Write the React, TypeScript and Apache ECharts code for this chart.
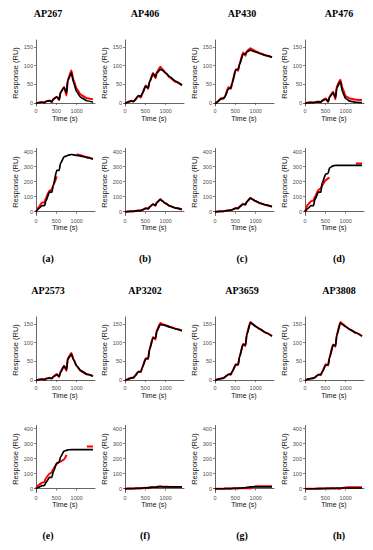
import React, { useEffect, useRef } from "react";
import * as echarts from "echarts";

// time points (s)
const TIME = [0, 30, 60, 150, 210, 240, 330, 390, 420, 510, 570, 600, 690, 750, 780, 870, 920, 1000, 1100, 1250, 1400];
const X_TICKS = [0, 500, 1000];
const TOP_TICKS = [0, 50, 100, 150];
const BOTTOM_TICKS = [0, 100, 200, 300, 400];

const COMPOUNDS = ["AP267", "AP406", "AP430", "AP476", "AP2573", "AP3202", "AP3659", "AP3808"];
const PANEL_LABELS = ["(a)", "(b)", "(c)", "(d)", "(e)", "(f)", "(g)", "(h)"];

const G = "-";
// upper panels (black / red)
const ap267TopBlack = [0, 0, 1, 2, 1, 4, 6, 3, 10, 16, 9, 28, 41, 27, 60, 80, 55, 30, 15, 6, 2];
const ap267TopRed = [0, 0, 1, 2, 1, 4, 7, 3, 10, 17, 8, 27, 43, 20, 62, 87, 62, 38, 22, 13, 10];
const ap406TopBlack = [0, 0, 2, 5, 4, 8, 20, 17, 25, 45, 40, 55, 78, 70, 80, 90, 87, 80, 70, 58, 48];
const ap406TopRed = [0, 1, 3, 6, 4, 7, 19, 15, 24, 47, 38, 56, 80, 66, 82, 97, 90, 80, 68, 56, 47];
const ap430TopBlack = [0, 0, 3, 11, 12, 16, 38, 40, 52, 88, 90, 102, 130, 131, 136, 141, 139, 136, 132, 127, 122];
const ap430TopRed = [0, 1, 4, 13, 12, 17, 42, 38, 54, 90, 86, 104, 135, 126, 138, 146, 143, 138, 133, 127, 122];
const ap476TopBlack = [0, 0, 1, 1, 1, 2, 3, 2, 6, 10, 4, 15, 27, 15, 40, 57, 30, 12, 5, 2, 1];
const ap476TopRed = [0, 0, 1, 2, 1, 2, 4, 2, 7, 12, 3, 17, 30, 10, 45, 62, 40, 18, 12, 9, 8];
const ap2573TopBlack = [0, 0, 1, 2, 1, 3, 5, 4, 8, 14, 10, 20, 37, 28, 55, 69, 55, 38, 25, 16, 10];
const ap2573TopRed = [0, 0, 1, 2, 1, 4, 6, 4, 9, 16, 8, 22, 38, 24, 58, 72, 55, 37, 24, 15, 11];
const ap3202TopBlack = [0, 0, 2, 5, 6, 10, 22, 22, 32, 56, 58, 80, 112, 112, 130, 148, 147, 145, 141, 136, 131];
const ap3202TopRed = [0, 0, 2, 6, 6, 11, 23, 21, 33, 58, 56, 82, 115, 108, 133, 152, 149, 146, 142, 137, 132];
const ap3659TopBlack = [0, 0, 2, 4, 5, 8, 15, 16, 22, 40, 42, 60, 95, 94, 120, 153, 149, 143, 136, 126, 117];
const ap3659TopRed = [0, 0, 2, 4, 5, 8, 15, 14, 22, 42, 40, 62, 96, 91, 122, 155, 150, 143, 136, 126, 117];
const ap3808TopBlack = [0, 0, 2, 4, 5, 7, 14, 15, 21, 39, 41, 58, 93, 92, 118, 152, 148, 142, 135, 126, 117];
const ap3808TopRed = [0, 0, 2, 4, 5, 7, 15, 13, 22, 42, 39, 60, 95, 89, 121, 155, 150, 143, 135, 126, 117];
// lower panels
const ap267BotBlack = [0, 10, 20, 40, 40, 70, 130, 130, 170, 275, 275, 320, 365, 370, 375, 380, 378, 375, 370, 360, 350];
const ap267BotRed = [0, 15, 30, 62, 62, 90, 140, 148, 175, 235, G, G, G, G, G, G, G, 382, 375, 363, 350];
const ap406BotBlack = [0, 0, 1, 3, 3, 4, 8, 8, 12, 22, 20, 30, 50, 42, 60, 82, 70, 55, 38, 24, 15];
const ap406BotRed = [0, 0, 1, 3, 3, 4, 8, 8, 12, 23, 19, 31, 50, 40, 62, 83, 70, 54, 38, 24, 15];
const ap430BotBlack = [0, 0, 1, 3, 3, 5, 9, 10, 13, 22, 22, 32, 50, 48, 65, 90, 82, 70, 58, 45, 34];
const ap430BotRed = [0, 0, 1, 3, 3, 5, 9, 10, 14, 25, 22, 33, 52, 46, 67, 92, 83, 70, 57, 45, 34];
const ap476BotBlack = [0, 10, 20, 40, 40, 80, 130, 130, 190, 250, 255, 290, 305, 308, 308, 308, 308, 308, 308, 308, 308];
const ap476BotRed = [0, 25, 45, 70, 75, 100, 145, 155, 175, 210, 222, 228, G, G, G, G, G, G, G, 320, 320];
const ap2573BotBlack = [0, 5, 10, 20, 22, 40, 75, 75, 110, 170, 175, 210, 250, 255, 258, 260, 260, 260, 260, 260, 260];
const ap2573BotRed = [0, 15, 25, 40, 45, 70, 100, 110, 130, 165, 180, 180, 195, 225, G, G, G, G, G, 280, 280];
const ap3202BotBlack = [0, 0, 1, 1, 1, 2, 3, 3, 4, 6, 6, 8, 10, 10, 11, 13, 13, 13, 12, 12, 12];
const ap3202BotRed = [0, 0, 1, 1, 1, 2, 3, 3, 4, 6, 6, 8, 11, 10, 12, 17, 14, 13, 12, 12, 12];
const ap3659BotBlack = [0, 0, 0, 0, 0, 1, 1, 1, 2, 3, 3, 4, 6, 7, 9, 12, 13, 13, 13, 13, 13];
const ap3659BotRed = [0, 0, 0, 0, 0, 1, 1, 1, 2, 3, 3, 3, 4, 3, 3, 2, 12, 16, 16, 16, 16];
const ap3808BotBlack = [0, 0, 0, 0, 0, 0, 1, 1, 1, 2, 2, 2, 3, 3, 4, 5, 5, 5, 5, 5, 5];
const ap3808BotRed = [0, 0, 0, 0, 0, 0, 1, 1, 1, 2, 2, 2, 3, 2, 1, 0, 5, 9, 10, 10, 10];

const TOP_BLACK = [ap267TopBlack, ap406TopBlack, ap430TopBlack, ap476TopBlack, ap2573TopBlack, ap3202TopBlack, ap3659TopBlack, ap3808TopBlack];
const TOP_RED = [ap267TopRed, ap406TopRed, ap430TopRed, ap476TopRed, ap2573TopRed, ap3202TopRed, ap3659TopRed, ap3808TopRed];
const BOT_BLACK = [ap267BotBlack, ap406BotBlack, ap430BotBlack, ap476BotBlack, ap2573BotBlack, ap3202BotBlack, ap3659BotBlack, ap3808BotBlack];
const BOT_RED = [ap267BotRed, ap406BotRed, ap430BotRed, ap476BotRed, ap2573BotRed, ap3202BotRed, ap3659BotRed, ap3808BotRed];

const COL_LEFT = [35, 124, 214, 304];
const TITLE_X = [48, 145, 242, 339];
const BLOCK_DY = 277;
const PLOT_W = 60;

function toPairs(arr: any[]) {
  return TIME.map((t, i) => [t, arr[i]]);
}

export default function App() {
  const ref = useRef<HTMLDivElement>(null);
  useEffect(() => {
    if (!ref.current) return;
    const chart = echarts.init(ref.current, null, { renderer: "svg" });
    const grids: any[] = [];
    const xAxes: any[] = [];
    const yAxes: any[] = [];
    const series: any[] = [];
    const graphic: any[] = [];
    const sans = "Liberation Sans";
    const serif = "Liberation Serif";
    const plain = (v: number) => String(v);

    const addPanel = (left: number, top: number, height: number, upper: boolean, black: any[], red: any[]) => {
      const idx = grids.length;
      grids.push({ left, top, width: PLOT_W, height });
      xAxes.push({
        type: "value",
        gridIndex: idx,
        min: -25,
        max: 1450,
        splitLine: { show: false },
        axisLine: { show: true, lineStyle: { color: "#222", width: 0.7 } },
        axisTick: { show: true, customValues: X_TICKS, length: 2, lineStyle: { color: "#333", width: 0.6 } },
        axisLabel: { customValues: X_TICKS, formatter: plain, fontSize: 5.5, color: "#4d4d4d", margin: 2, fontFamily: sans },
        name: "Time (s)",
        nameLocation: "middle",
        nameGap: 8,
        nameTextStyle: { fontSize: 7, color: "#111", fontFamily: sans },
      });
      const ticks = upper ? TOP_TICKS : BOTTOM_TICKS;
      yAxes.push({
        type: "value",
        gridIndex: idx,
        min: upper ? -8 : -25,
        max: upper ? 168 : 420,
        splitLine: { show: false },
        axisLine: { show: true, lineStyle: { color: "#222", width: 0.7 } },
        axisTick: { show: true, customValues: ticks, length: 2, lineStyle: { color: "#333", width: 0.6 } },
        axisLabel: { customValues: ticks, formatter: plain, fontSize: 5.5, color: "#4d4d4d", margin: 2, fontFamily: sans },
        name: "Response (RU)",
        nameLocation: "middle",
        nameRotate: 90,
        nameGap: 15,
        nameTextStyle: { fontSize: 7.5, color: "#111", fontFamily: sans },
      });
      const common = {
        type: "line",
        xAxisIndex: idx,
        yAxisIndex: idx,
        showSymbol: false,
        symbol: "none",
        smooth: 0.2,
        smoothMonotone: "x",
        connectNulls: false,
      };
      series.push({ ...common, data: toPairs(red), lineStyle: { color: "#ff0000", width: 2 } });
      series.push({ ...common, data: toPairs(black), lineStyle: { color: "#000000", width: 1.7 } });
    };

    for (let p = 0; p < 8; p++) {
      const block = Math.floor(p / 4);
      const col = p % 4;
      const dy = block * BLOCK_DY;
      addPanel(COL_LEFT[col], 40 + dy, 66, true, TOP_BLACK[p], TOP_RED[p]);
      addPanel(COL_LEFT[col], 148.5 + dy, 67, false, BOT_BLACK[p], BOT_RED[p]);
      graphic.push({
        type: "text",
        x: TITLE_X[col],
        y: 13.5 + dy,
        style: { text: COMPOUNDS[p], fontFamily: serif, fontWeight: "bold", fontSize: 10, fill: "#000", align: "center", verticalAlign: "middle" },
      });
      graphic.push({
        type: "text",
        x: TITLE_X[col],
        y: 258.5 + dy,
        style: { text: PANEL_LABELS[p], fontFamily: serif, fontWeight: "bold", fontSize: 10, fill: "#000", align: "center", verticalAlign: "middle" },
      });
    }

    chart.setOption({
      animation: false,
      backgroundColor: "#ffffff",
      grid: grids,
      xAxis: xAxes,
      yAxis: yAxes,
      series,
      graphic,
    });
    return () => chart.dispose();
  }, []);
  return <div ref={ref} style={{ position: "fixed", left: 0, top: 0, width: 373, height: 550, background: "#fff" }} />;
}
